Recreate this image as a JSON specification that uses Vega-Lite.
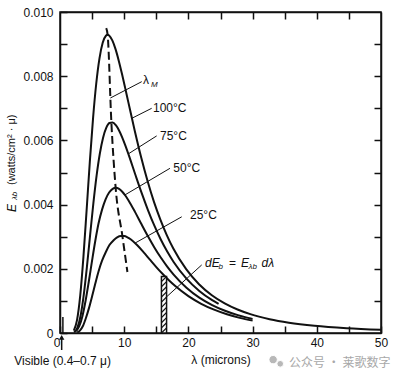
{
  "$schema": "https://vega.github.io/schema/vega-lite/v6.json",
  "width": 321,
  "height": 321,
  "autosize": "none",
  "padding": {"left": 60, "top": 12, "right": 19, "bottom": 46},
  "background": "white",
  "config": {
    "view": {"stroke": "#111", "strokeWidth": 1.5},
    "axis": {"domainColor": "#111", "domainWidth": 1.5, "tickColor": "#111", "tickWidth": 1.5, "labelColor": "#111", "labelFont": "Liberation Sans", "labelFontSize": 12, "titleFont": "Liberation Sans", "titleFontSize": 12, "titleFontWeight": "normal", "titleColor": "#111", "grid": false, "labelOverlap": false, "labelFlush": false},
    "text": {"font": "Liberation Sans", "color": "#111"}
  },
  "resolve": {"axis": {"x": "independent", "y": "independent"}},
  "datasets": {
    "curves": [
      {"T": "100", "lam": 2.15, "E": 0.000076}, {"T": "100", "lam": 2.65, "E": 0.000401}, {"T": "100", "lam": 3.15, "E": 0.001165}, {"T": "100", "lam": 3.65, "E": 0.00237}, {"T": "100", "lam": 4.15, "E": 0.00384}, {"T": "100", "lam": 4.65, "E": 0.005345}, {"T": "100", "lam": 5.15, "E": 0.006695}, {"T": "100", "lam": 5.65, "E": 0.00778}, {"T": "100", "lam": 6.15, "E": 0.008557}, {"T": "100", "lam": 6.65, "E": 0.00904}, {"T": "100", "lam": 7.15, "E": 0.00926}, {"T": "100", "lam": 7.42, "E": 0.00929}, {"T": "100", "lam": 7.65, "E": 0.00927}, {"T": "100", "lam": 8.15, "E": 0.009115}, {"T": "100", "lam": 8.65, "E": 0.008842}, {"T": "100", "lam": 9.15, "E": 0.008484}, {"T": "100", "lam": 9.65, "E": 0.008074}, {"T": "100", "lam": 10.15, "E": 0.007636}, {"T": "100", "lam": 10.65, "E": 0.007185}, {"T": "100", "lam": 11.65, "E": 0.006294}, {"T": "100", "lam": 12.65, "E": 0.005466}, {"T": "100", "lam": 13.65, "E": 0.004725}, {"T": "100", "lam": 14.65, "E": 0.004076}, {"T": "100", "lam": 15.65, "E": 0.003524}, {"T": "100", "lam": 16.65, "E": 0.003042}, {"T": "100", "lam": 17.65, "E": 0.002631}, {"T": "100", "lam": 19.65, "E": 0.001989}, {"T": "100", "lam": 21.65, "E": 0.001521}, {"T": "100", "lam": 23.65, "E": 0.001178}, {"T": "100", "lam": 25.65, "E": 0.000924}, {"T": "100", "lam": 27.65, "E": 0.000733}, {"T": "100", "lam": 29.65, "E": 0.000588}, {"T": "100", "lam": 32.65, "E": 0.000431}, {"T": "100", "lam": 35.65, "E": 0.000322}, {"T": "100", "lam": 39.65, "E": 0.000225}, {"T": "100", "lam": 44.65, "E": 0.00015}, {"T": "100", "lam": 50, "E": 0.000101},
      {"T": "75", "lam": 2.2, "E": 0.000025}, {"T": "75", "lam": 2.7, "E": 0.000159}, {"T": "75", "lam": 3.2, "E": 0.000528}, {"T": "75", "lam": 3.7, "E": 0.001186}, {"T": "75", "lam": 4.2, "E": 0.002074}, {"T": "75", "lam": 4.7, "E": 0.00307}, {"T": "75", "lam": 5.2, "E": 0.004044}, {"T": "75", "lam": 5.7, "E": 0.0049}, {"T": "75", "lam": 6.2, "E": 0.005583}, {"T": "75", "lam": 6.7, "E": 0.006077}, {"T": "75", "lam": 7.2, "E": 0.006389}, {"T": "75", "lam": 7.7, "E": 0.006542}, {"T": "75", "lam": 8.2, "E": 0.00656}, {"T": "75", "lam": 8.7, "E": 0.006475}, {"T": "75", "lam": 9.2, "E": 0.00631}, {"T": "75", "lam": 9.7, "E": 0.006089}, {"T": "75", "lam": 10.2, "E": 0.005829}, {"T": "75", "lam": 10.7, "E": 0.005547}, {"T": "75", "lam": 11.7, "E": 0.004954}, {"T": "75", "lam": 12.7, "E": 0.004371}, {"T": "75", "lam": 13.7, "E": 0.00383}, {"T": "75", "lam": 14.7, "E": 0.003343}, {"T": "75", "lam": 15.7, "E": 0.002913}, {"T": "75", "lam": 16.7, "E": 0.002538}, {"T": "75", "lam": 17.7, "E": 0.002214}, {"T": "75", "lam": 19.7, "E": 0.001694}, {"T": "75", "lam": 21.7, "E": 0.001309}, {"T": "75", "lam": 23.7, "E": 0.001022}, {"T": "75", "lam": 24.7, "E": 0.000907},
      {"T": "50", "lam": 2.5, "E": 0.000055}, {"T": "50", "lam": 3.0, "E": 0.000212}, {"T": "50", "lam": 3.5, "E": 0.000533}, {"T": "50", "lam": 4.0, "E": 0.001019}, {"T": "50", "lam": 4.5, "E": 0.001619}, {"T": "50", "lam": 5.0, "E": 0.00226}, {"T": "50", "lam": 5.5, "E": 0.002873}, {"T": "50", "lam": 6.0, "E": 0.00341}, {"T": "50", "lam": 6.55, "E": 0.003843}, {"T": "50", "lam": 7.1, "E": 0.004164}, {"T": "50", "lam": 7.65, "E": 0.004377}, {"T": "50", "lam": 8.2, "E": 0.004491}, {"T": "50", "lam": 8.7, "E": 0.004524}, {"T": "50", "lam": 9.2, "E": 0.004489}, {"T": "50", "lam": 9.7, "E": 0.004402}, {"T": "50", "lam": 10.2, "E": 0.004276}, {"T": "50", "lam": 10.7, "E": 0.004122}, {"T": "50", "lam": 11.7, "E": 0.003765}, {"T": "50", "lam": 12.7, "E": 0.003385}, {"T": "50", "lam": 13.7, "E": 0.003013}, {"T": "50", "lam": 14.7, "E": 0.002666}, {"T": "50", "lam": 15.7, "E": 0.00235}, {"T": "50", "lam": 16.7, "E": 0.002069}, {"T": "50", "lam": 17.7, "E": 0.00182}, {"T": "50", "lam": 19.7, "E": 0.001413}, {"T": "50", "lam": 21.7, "E": 0.001104}, {"T": "50", "lam": 23.7, "E": 0.000871}, {"T": "50", "lam": 25.7, "E": 0.000693}, {"T": "50", "lam": 27.7, "E": 0.000556}, {"T": "50", "lam": 29.7, "E": 0.000451}, {"T": "50", "lam": 30, "E": 0.00044},
      {"T": "25", "lam": 2.7, "E": 0.000016}, {"T": "25", "lam": 3.1, "E": 0.000073}, {"T": "25", "lam": 3.55, "E": 0.000209}, {"T": "25", "lam": 4.0, "E": 0.000444}, {"T": "25", "lam": 4.5, "E": 0.000767}, {"T": "25", "lam": 5.0, "E": 0.001145}, {"T": "25", "lam": 5.5, "E": 0.001541}, {"T": "25", "lam": 6.0, "E": 0.001918}, {"T": "25", "lam": 6.55, "E": 0.002252}, {"T": "25", "lam": 7.15, "E": 0.002527}, {"T": "25", "lam": 7.7, "E": 0.002739}, {"T": "25", "lam": 8.35, "E": 0.002888}, {"T": "25", "lam": 8.9, "E": 0.002979}, {"T": "25", "lam": 9.5, "E": 0.00302}, {"T": "25", "lam": 10, "E": 0.003018}, {"T": "25", "lam": 10.5, "E": 0.002982}, {"T": "25", "lam": 11, "E": 0.00292}, {"T": "25", "lam": 12, "E": 0.002739}, {"T": "25", "lam": 13, "E": 0.002519}, {"T": "25", "lam": 14, "E": 0.002284}, {"T": "25", "lam": 15, "E": 0.002053}, {"T": "25", "lam": 16, "E": 0.001836}, {"T": "25", "lam": 17, "E": 0.001635}, {"T": "25", "lam": 18, "E": 0.001454}, {"T": "25", "lam": 20, "E": 0.001149}, {"T": "25", "lam": 22, "E": 0.00091}, {"T": "25", "lam": 24, "E": 0.000726}, {"T": "25", "lam": 26, "E": 0.000583}, {"T": "25", "lam": 28, "E": 0.000472}, {"T": "25", "lam": 30, "E": 0.000385}
    ],
    "lamM": [
      {"lam": 7.2, "E": 0.0095}, {"lam": 7.42, "E": 0.00929}, {"lam": 8.0, "E": 0.00657}, {"lam": 8.67, "E": 0.00452}, {"lam": 9.72, "E": 0.00302}, {"lam": 10.5, "E": 0.0019}
    ],
    "bar": [{"lam": 15.8, "lam2": 16.6, "E": 0, "E2": 0.00176}],
    "hatch": [
      {"lam": 15.8, "lam2": 16.6, "E": 0, "E2": 0.00016}, {"lam": 15.8, "lam2": 16.6, "E": 0.00016, "E2": 0.00032}, {"lam": 15.8, "lam2": 16.6, "E": 0.00032, "E2": 0.00048}, {"lam": 15.8, "lam2": 16.6, "E": 0.00048, "E2": 0.00064}, {"lam": 15.8, "lam2": 16.6, "E": 0.00064, "E2": 0.0008}, {"lam": 15.8, "lam2": 16.6, "E": 0.0008, "E2": 0.00096}, {"lam": 15.8, "lam2": 16.6, "E": 0.00096, "E2": 0.00112}, {"lam": 15.8, "lam2": 16.6, "E": 0.00112, "E2": 0.00128}, {"lam": 15.8, "lam2": 16.6, "E": 0.00128, "E2": 0.00144}, {"lam": 15.8, "lam2": 16.6, "E": 0.00144, "E2": 0.0016}, {"lam": 15.8, "lam2": 16.6, "E": 0.0016, "E2": 0.00176}
    ],
    "leaders": [
      {"lam": 7.84, "E": 0.00732, "lam2": 12.73, "E2": 0.00783},
      {"lam": 11.2, "E": 0.00669, "lam2": 14.28, "E2": 0.0070},
      {"lam": 10.64, "E": 0.00558, "lam2": 15.06, "E2": 0.00614},
      {"lam": 10.1, "E": 0.0043, "lam2": 17.13, "E2": 0.00513},
      {"lam": 11.68, "E": 0.0028, "lam2": 18.96, "E2": 0.00362},
      {"lam": 16.62, "E": 0.00113, "lam2": 22.07, "E2": 0.00212}
    ],
    "marker": [
      {"lam": 0.45, "E": 0, "lam2": 0.45, "E2": 0.0005},
      {"lam": 0.26, "E": -0.00053, "lam2": 0.26, "E2": -0.00012}
    ],
    "arrowhead": [{"lam": 0.26, "E": -0.00014}],
    "labels": [
      {"text": "λ", "lam": 12.93, "E": 0.00788},
      {"text": "100°C", "lam": 14.49, "E": 0.00701},
      {"text": "75°C", "lam": 15.58, "E": 0.00614},
      {"text": "50°C", "lam": 17.65, "E": 0.00513},
      {"text": "25°C", "lam": 20.25, "E": 0.00368},
      {"text": "=", "lam": 26.32, "E": 0.00219}
    ],
    "italics": [
      {"text": "dE", "lam": 22.59, "E": 0.00219},
      {"text": "E", "lam": 28.19, "E": 0.00219},
      {"text": "dλ", "lam": 31.39, "E": 0.00219}
    ],
    "subs": [
      {"text": "M", "lam": 14.17, "E": 0.00773},
      {"text": "b", "lam": 24.69, "E": 0.00206},
      {"text": "λb", "lam": 29.36, "E": 0.00206}
    ],
    "ytitle": [
      {"text": "E", "lam": -7.48, "E": 0.00377, "part": "main"},
      {"text": "λb", "lam": -7.0, "E": 0.00414, "part": "sub"},
      {"text": "(watts/cm² · μ)", "lam": -7.48, "E": 0.00461, "part": "unit"}
    ],
    "visible": [{"text": "Visible (0.4–0.7 μ)", "lam": 0.4, "E": -0.00087}],
    "watermark": [{"text": "公众号 · 莱歌数字", "lam": 35.67, "E": -0.000925}],
    "icon": [{"lam": 33.2, "E": -0.00083, "part": "big"}, {"lam": 34.3, "E": -0.00096, "part": "small"}]
  },
  "layer": [
    {
      "data": {"name": "curves"},
      "mark": {"type": "line", "color": "#111", "strokeWidth": 2, "interpolate": "monotone"},
      "encoding": {
        "x": {"field": "lam", "type": "quantitative", "scale": {"domain": [0, 50], "nice": false, "zero": false},
          "axis": {"orient": "bottom", "values": [0, 5, 10, 15, 20, 25, 30, 35, 40, 45, 50], "labelExpr": "datum.value % 10 === 0 ? datum.label : ''", "tickSize": -7, "labelPadding": 11, "title": "λ (microns)", "titlePadding": 6,
            "labelAlign": {"condition": {"test": "datum.value === 0", "value": "right"}, "value": "center"}}},
        "y": {"field": "E", "type": "quantitative", "scale": {"domain": [0, 0.01], "nice": false, "zero": false},
          "axis": {"orient": "left", "values": [0, 0.001, 0.002, 0.003, 0.004, 0.005, 0.006, 0.007, 0.008, 0.009, 0.01], "labelExpr": "datum.value === 0 ? '0' : (round(datum.value * 1000) % 2 === 0 ? format(datum.value, '.3f') : '')", "tickSize": -7, "labelPadding": 14, "title": null}},
        "detail": {"field": "T"}
      }
    },
    {
      "data": {"name": "lamM"},
      "mark": {"type": "line", "color": "#111", "strokeWidth": 2, "strokeDash": [8, 4], "interpolate": "monotone"},
      "encoding": {
        "x": {"field": "lam", "type": "quantitative", "axis": {"orient": "top", "values": [5, 10, 15, 20, 25, 30, 35, 40, 45], "labels": false, "tickSize": -7, "title": null}},
        "y": {"field": "E", "type": "quantitative", "axis": {"orient": "right", "values": [0.001, 0.002, 0.003, 0.004, 0.005, 0.006, 0.007, 0.008, 0.009], "labels": false, "tickSize": -7, "title": null}}
      }
    },
    {
      "data": {"name": "bar"},
      "mark": {"type": "rect", "fill": "white", "stroke": "#111", "strokeWidth": 1.5},
      "encoding": {
        "x": {"field": "lam", "type": "quantitative", "axis": null}, "x2": {"field": "lam2"},
        "y": {"field": "E", "type": "quantitative", "axis": null}, "y2": {"field": "E2"}
      }
    },
    {
      "data": {"name": "hatch"},
      "mark": {"type": "rule", "color": "#111", "strokeWidth": 1.2},
      "encoding": {
        "x": {"field": "lam", "type": "quantitative", "axis": null}, "x2": {"field": "lam2"},
        "y": {"field": "E", "type": "quantitative", "axis": null}, "y2": {"field": "E2"}
      }
    },
    {
      "data": {"name": "leaders"},
      "mark": {"type": "rule", "color": "#111", "strokeWidth": 1},
      "encoding": {
        "x": {"field": "lam", "type": "quantitative", "axis": null}, "x2": {"field": "lam2"},
        "y": {"field": "E", "type": "quantitative", "axis": null}, "y2": {"field": "E2"}
      }
    },
    {
      "data": {"name": "marker"},
      "mark": {"type": "rule", "color": "#111", "strokeWidth": 1.5},
      "encoding": {
        "x": {"field": "lam", "type": "quantitative", "axis": null}, "x2": {"field": "lam2"},
        "y": {"field": "E", "type": "quantitative", "axis": null}, "y2": {"field": "E2"}
      }
    },
    {
      "data": {"name": "arrowhead"},
      "mark": {"type": "point", "shape": "triangle-up", "filled": true, "color": "#111", "size": 30, "opacity": 1},
      "encoding": {
        "x": {"field": "lam", "type": "quantitative", "axis": null},
        "y": {"field": "E", "type": "quantitative", "axis": null}
      }
    },
    {
      "data": {"name": "labels"},
      "mark": {"type": "text", "align": "left", "baseline": "middle", "fontSize": 12},
      "encoding": {
        "x": {"field": "lam", "type": "quantitative", "axis": null},
        "y": {"field": "E", "type": "quantitative", "axis": null},
        "text": {"field": "text"}
      }
    },
    {
      "data": {"name": "italics"},
      "mark": {"type": "text", "align": "left", "baseline": "middle", "fontSize": 12, "fontStyle": "italic"},
      "encoding": {
        "x": {"field": "lam", "type": "quantitative", "axis": null},
        "y": {"field": "E", "type": "quantitative", "axis": null},
        "text": {"field": "text"}
      }
    },
    {
      "data": {"name": "subs"},
      "mark": {"type": "text", "align": "left", "baseline": "middle", "fontSize": 8, "fontStyle": "italic"},
      "encoding": {
        "x": {"field": "lam", "type": "quantitative", "axis": null},
        "y": {"field": "E", "type": "quantitative", "axis": null},
        "text": {"field": "text"}
      }
    },
    {
      "data": {"name": "ytitle"},
      "transform": [{"filter": "datum.part === 'main'"}],
      "mark": {"type": "text", "align": "left", "baseline": "middle", "fontSize": 12, "fontStyle": "italic", "angle": 270},
      "encoding": {
        "x": {"field": "lam", "type": "quantitative", "axis": null},
        "y": {"field": "E", "type": "quantitative", "axis": null},
        "text": {"field": "text"}
      }
    },
    {
      "data": {"name": "ytitle"},
      "transform": [{"filter": "datum.part === 'sub'"}],
      "mark": {"type": "text", "align": "left", "baseline": "middle", "fontSize": 8, "fontStyle": "italic", "angle": 270},
      "encoding": {
        "x": {"field": "lam", "type": "quantitative", "axis": null},
        "y": {"field": "E", "type": "quantitative", "axis": null},
        "text": {"field": "text"}
      }
    },
    {
      "data": {"name": "ytitle"},
      "transform": [{"filter": "datum.part === 'unit'"}],
      "mark": {"type": "text", "align": "left", "baseline": "middle", "fontSize": 11, "angle": 270},
      "encoding": {
        "x": {"field": "lam", "type": "quantitative", "axis": null},
        "y": {"field": "E", "type": "quantitative", "axis": null},
        "text": {"field": "text"}
      }
    },
    {
      "data": {"name": "visible"},
      "mark": {"type": "text", "align": "center", "baseline": "middle", "fontSize": 12},
      "encoding": {
        "x": {"field": "lam", "type": "quantitative", "axis": null},
        "y": {"field": "E", "type": "quantitative", "axis": null},
        "text": {"field": "text"}
      }
    },
    {
      "data": {"name": "icon"},
      "mark": {"type": "point", "shape": "circle", "filled": true, "color": "#b8b8b8", "opacity": 1, "stroke": "white", "strokeWidth": 1},
      "encoding": {
        "x": {"field": "lam", "type": "quantitative", "axis": null},
        "y": {"field": "E", "type": "quantitative", "axis": null},
        "size": {"field": "part", "type": "nominal", "scale": {"domain": ["big", "small"], "range": [70, 45]}, "legend": null}
      }
    },
    {
      "data": {"name": "watermark"},
      "mark": {"type": "text", "align": "left", "baseline": "middle", "fontSize": 12, "font": "Noto Sans CJK SC", "color": "#a8a8a8"},
      "encoding": {
        "x": {"field": "lam", "type": "quantitative", "axis": null},
        "y": {"field": "E", "type": "quantitative", "axis": null},
        "text": {"field": "text"}
      }
    }
  ]
}
